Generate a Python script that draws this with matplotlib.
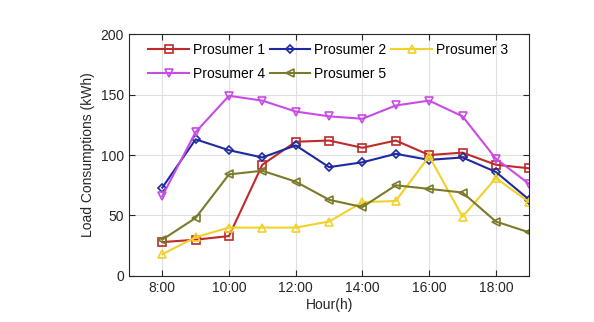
import matplotlib
matplotlib.use("Agg")
import matplotlib.pyplot as plt

hours = [8, 9, 10, 11, 12, 13, 14, 15, 16, 17, 18, 19]
tick_hours = [8, 10, 12, 14, 16, 18]
tick_labels = ['8:00', '10:00', '12:00', '14:00', '16:00', '18:00']

p1 = [28, 30, 33, 92, 111, 112, 106, 112, 100, 102, 92, 89]
p2 = [73, 113, 104, 98, 108, 90, 94, 101, 96, 98, 86, 63]
p3 = [18, 32, 40, 40, 40, 45, 61, 62, 99, 49, 81, 61]
p4 = [66, 119, 149, 145, 136, 132, 130, 141, 145, 132, 97, 76]
p5 = [30, 48, 84, 87, 78, 63, 57, 75, 72, 69, 45, 36]

plt.rcParams['font.family'] = ['Liberation Sans', 'DejaVu Sans']

fig = plt.figure(figsize=(5.94, 3.22), dpi=100)
ax = fig.add_axes([0.217, 0.143, 0.674, 0.751])

series = [
    (p1, 's', '#c02a2a', 'Prosumer 1'),
    (p2, 'D', '#1e2a9e', 'Prosumer 2'),
    (p3, '^', '#f2d12a', 'Prosumer 3'),
    (p4, 'v', '#c84be6', 'Prosumer 4'),
    (p5, '<', '#7b7a2a', 'Prosumer 5'),
]
lines = []
for vals, mk, col, lab in series:
    ms = 4.5 if mk == 'D' else 6
    ln, = ax.plot(hours, vals, marker=mk, color=col, label=lab, linewidth=1.5,
                  markersize=ms, markerfacecolor='none', markeredgewidth=1.2)
    lines.append(ln)

ax.set_xlim(7, 19)
ax.set_ylim(0, 200)
ax.set_xticks(tick_hours)
ax.set_xticklabels(tick_labels)
ax.set_yticks([0, 50, 100, 150, 200])
ax.grid(True, color='#e0e0e0', linewidth=0.8)
ax.set_axisbelow(True)
ax.tick_params(direction='in', top=True, right=True, labelsize=10, colors='#262626', length=4)
for s in ax.spines.values():
    s.set_color('#262626')
    s.set_linewidth(0.8)
ax.set_xlabel('Hour(h)', fontsize=10, color='#262626', labelpad=2)
ax.set_ylabel('Load Consumptions (kWh)', fontsize=10, color='#262626')

# row-wise legend order: matplotlib fills columns first
order = [0, 3, 1, 4, 2]
ax.legend([lines[i] for i in order], [series[i][3] for i in order],
          loc='upper left', bbox_to_anchor=(0.035, 0.985), ncol=3, frameon=False,
          fontsize=10, handlelength=2.9, columnspacing=0.35, handletextpad=0.3,
          borderaxespad=0.0, labelspacing=0.7)

fig.savefig('out.png', dpi=100)
